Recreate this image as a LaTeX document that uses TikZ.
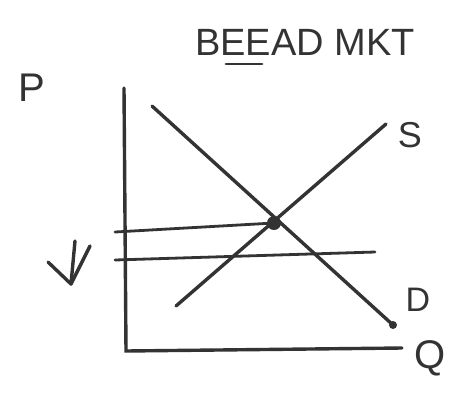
\documentclass[tikz,border=0pt]{standalone}
\usepackage{fontspec}
\setmainfont{Liberation Sans}
\usetikzlibrary{arrows.meta}
\definecolor{ink}{HTML}{333333}
\tikzset{
  pen/.style={draw=ink, line width=3.4pt, line cap=round},
  lbl/.style={text=ink, inner sep=0pt, font=\fontsize{40}{40}\selectfont},
}
\begin{document}
\begin{tikzpicture}[x=1pt,y=-1pt]
\useasboundingbox (0,0) rectangle (466,392);
% axes
\coordinate (ytop) at (124,88);
\coordinate (orig) at (126,351);
\coordinate (xend) at (402,348);
\draw[pen] (ytop) -- (orig) -- (xend);
% supply & demand
\coordinate (s1) at (176,306);
\coordinate (s2) at (386,124);
\coordinate (d1) at (152,106);
\coordinate (d2) at (393,325);
\draw[pen] (s1) -- (s2);
\draw[pen] (d1) -- (d2);
% price lines
\coordinate (p1a) at (115,232);
\coordinate (eq) at (274,223);
\coordinate (p2a) at (115,260);
\coordinate (p2b) at (375,252);
\draw[pen, line width=2.8pt] (p1a) -- (eq);
\draw[pen, line width=2.8pt] (p2a) -- (p2b);
\fill[ink] (eq) circle (7pt);
\fill[ink] (d2) circle (4pt);
% down arrow
\coordinate (a1) at (75,241);
\coordinate (a2) at (71,284);
\draw[pen] (a1) -- (a2);
\draw[pen, line join=round] (48,262) -- (a2) -- (90,246);
% labels
\node[lbl] (P) at (32,88) {P};
\node[lbl, font=\fontsize{38}{38}\selectfont] (title) at (305,42) {BEEAD MKT};
\draw[pen, line width=2.8pt] (226,64) -- (262,64);
\node[lbl, font=\fontsize{36}{36}\selectfont] (S) at (410,135) {S};
\node[lbl, font=\fontsize{34}{34}\selectfont] (D) at (418,300) {D};
\node[lbl] (Q) at (430,358) {Q};
\end{tikzpicture}
\end{document}
